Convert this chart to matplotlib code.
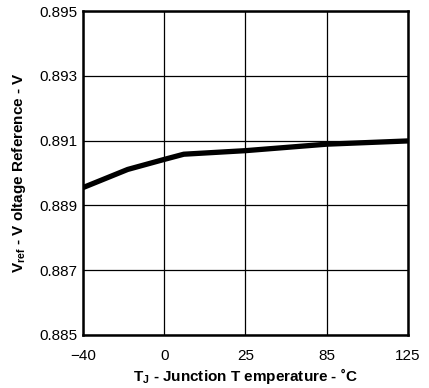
import numpy as np
import matplotlib
matplotlib.use('Agg')
import matplotlib.pyplot as plt

plt.rcParams['font.family'] = ['Liberation Sans', 'DejaVu Sans']
plt.rcParams['mathtext.fontset'] = 'custom'
plt.rcParams['mathtext.rm'] = 'Liberation Sans'
plt.rcParams['mathtext.bf'] = 'Liberation Sans:bold'

# tick categories (evenly spaced on the axis)
tick_temps = [-40, 0, 25, 85, 125]
tick_labels = ['\u221240', '0', '25', '85', '125']
y_ticks = [0.885, 0.887, 0.889, 0.891, 0.893, 0.895]

# curve
temps = [-40, -18, 0, 6, 25, 55, 85, 125]
vref = [0.88955, 0.89011, 0.89042, 0.89058, 0.89069, 0.89079, 0.89089, 0.89099]

tick_pos = np.arange(len(tick_temps))
x = np.interp(temps, tick_temps, tick_pos)

fig = plt.figure(figsize=(4.29, 3.88), dpi=100)
ax = fig.add_axes([0.1935, 0.1366, 0.7575, 0.835])

ax.plot(x, vref, color='black', lw=3.8, solid_capstyle='butt', solid_joinstyle='round')

ax.set_xlim(tick_pos[0], tick_pos[-1])
ax.set_ylim(y_ticks[0], y_ticks[-1])
ax.set_xticks(tick_pos)
ax.set_xticklabels(tick_labels)
ax.set_yticks(y_ticks)
ax.set_yticklabels(['%.3f' % v for v in y_ticks])
ax.grid(True, color='black', lw=0.9)
ax.tick_params(axis='both', length=0, labelsize=11)
ax.tick_params(axis='x', pad=10)
ax.tick_params(axis='y', pad=4)
for s in ax.spines.values():
    s.set_linewidth(1.8)

ax.set_xlabel('$\\mathbf{T_J}$ - Junction T emperature - \u02daC',
              fontsize=11, fontweight='bold', labelpad=2)
ax.set_ylabel('$\\mathbf{V_{ref}}$ - V oltage Reference - V', fontsize=11, fontweight='bold', labelpad=8)

fig.savefig('out.png', dpi=100)
